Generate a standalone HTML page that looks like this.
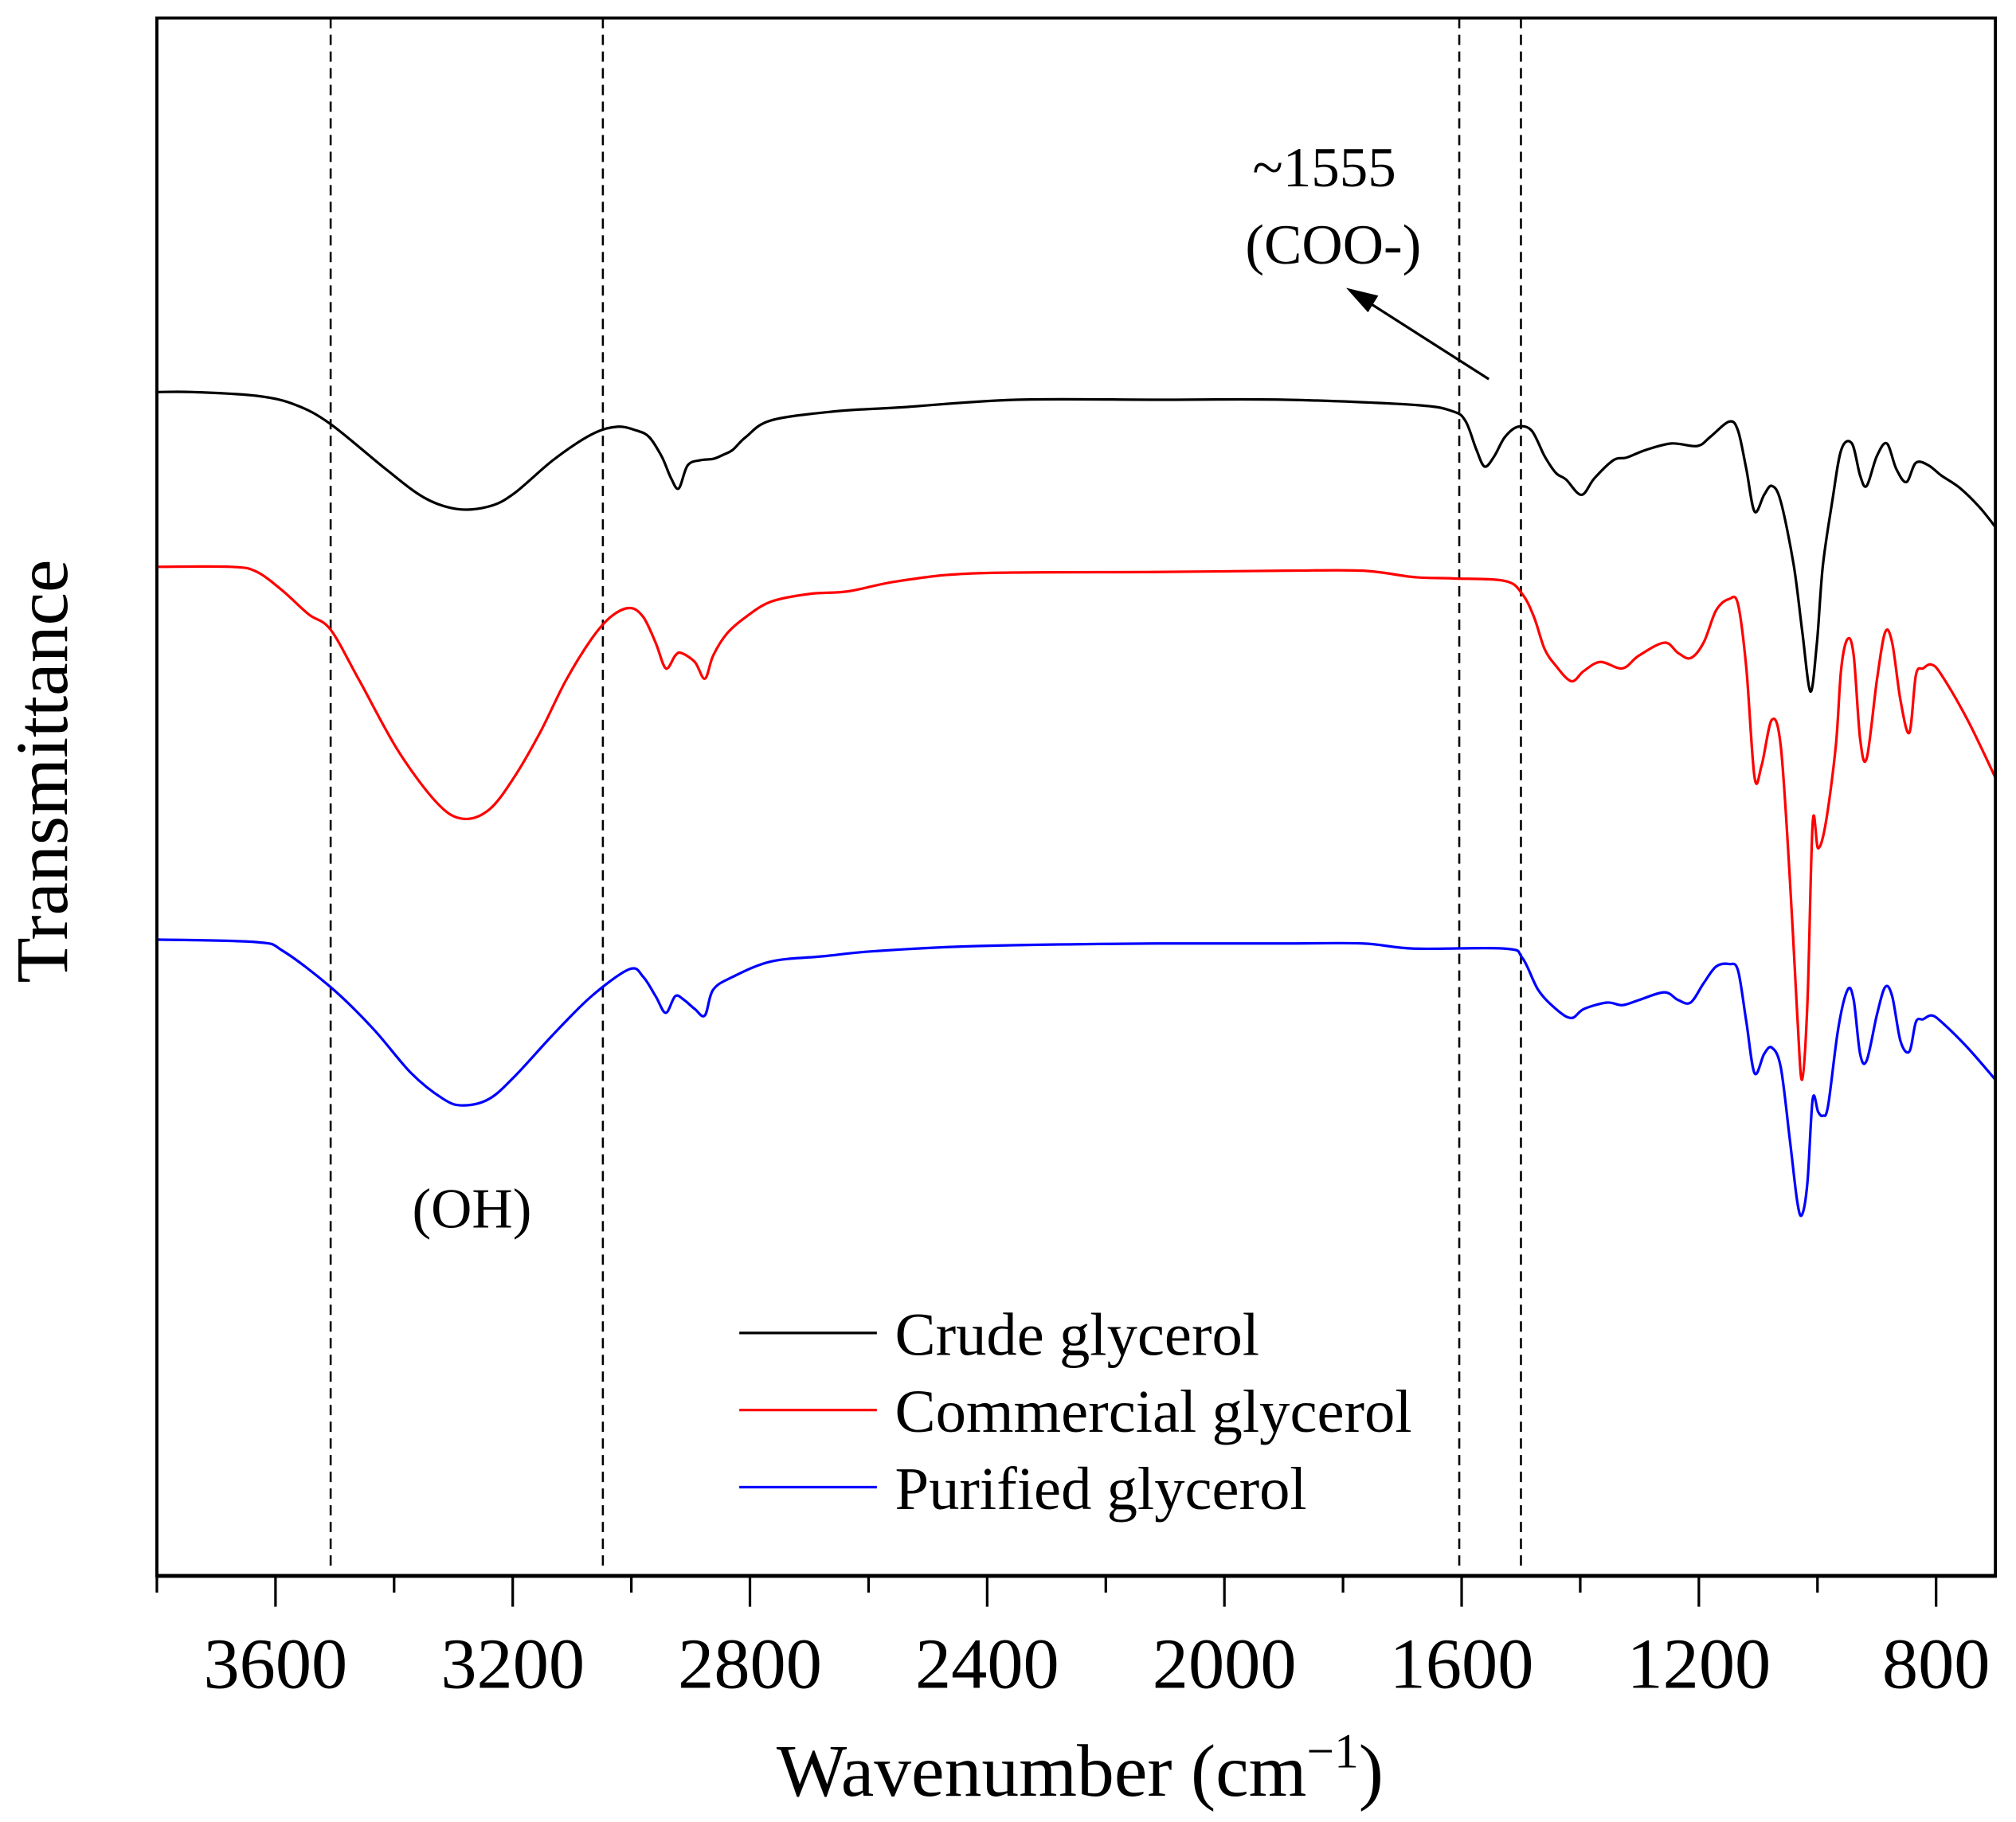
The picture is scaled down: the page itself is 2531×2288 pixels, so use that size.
<!DOCTYPE html>
<html><head><meta charset="utf-8"><style>
html,body{margin:0;padding:0;background:#fff;}
svg{display:block;}
text{font-family:"Liberation Serif",serif;fill:#000;}
</style></head><body>
<svg id="chart" width="2531" height="2288" viewBox="0 0 1568 1417.5" xmlns="http://www.w3.org/2000/svg">
<g id="plot"></g>
</svg>
<script>
const xTicks = [3600, 3200, 2800, 2400, 2000, 1600, 1200, 800];
const xMinorTicks = [3800, 3400, 3000, 2600, 2200, 1800, 1400, 1000];
const crudeWn = [3800,3739,3631,3566,3507,3414,3350,3294,3240,3198,3132,3067,3024,2991,2970,2949,2933,2920,2905,2883,2862,2846,2829,2807,2764,2656,2548,2352,2114,1896,1680,1615,1593,1575,1561,1545,1527,1505,1482,1460,1441,1424,1398,1376,1344,1322,1289,1246,1203,1181,1149,1134,1120,1106,1090,1077,1062,1040,1026,1012,1001,991,975,960,942,928,917,900,883,867,850,834,813,791,759,726,700];
const crudeT = [93.5,93.5,93.2,92.5,91,87.5,85.3,84.4,84.6,85.6,88.2,90.2,90.8,90.5,90,88.5,86.8,86,87.8,88.2,88.3,88.6,89,90,91.3,92,92.3,92.9,92.9,92.9,92.5,92,91.2,89,87.7,88.5,90,90.8,90.5,88.5,87.2,86.7,85.5,86.8,88.2,88.4,89,89.5,89.3,90,91.2,90.5,87.5,84.2,85.5,86.2,85,80,75,70.2,74,80,85,89,89.5,87,86.2,88.5,89.5,87.5,86.5,88,87.8,87,86,84.5,83];
const commWn = [3800,3674,3631,3587,3544,3507,3458,3392,3327,3284,3240,3198,3154,3111,3067,3035,3003,2980,2959,2942,2926,2916,2893,2876,2862,2839,2807,2764,2699,2634,2548,2417,2114,1896,1767,1680,1615,1527,1498,1478,1460,1441,1415,1394,1366,1329,1301,1258,1235,1214,1192,1171,1149,1134,1120,1106,1094,1077,1062,1047,1034,1026,1017,1008,999,986,969,960,949,939,928,917,900,886,874,860,845,834,822,808,791,747,700];
const commT = [79.9,79.9,79.5,78,76.2,75,71,65.5,61.5,60.3,61,63.5,67,71,74.3,76,76.7,76,74,72,73,73.2,72.5,71.2,73,74.7,76,77.2,77.8,78,78.8,79.4,79.5,79.6,79.6,79.1,79,78.8,77.8,76,73.5,72.2,71,71.8,72.5,72,73,74,73.2,72.8,74,76.5,77.4,77,72,63.5,64.5,68,66,56,45,40,46,60,58,60,66,72,74.3,73,66.5,65,71,74.8,74,69.5,67,71.5,72,72.3,71.5,68,63.5];
const purWn = [3800,3631,3587,3507,3436,3371,3317,3284,3240,3198,3132,3067,3003,2980,2959,2942,2926,2911,2893,2876,2862,2829,2764,2677,2590,2417,2114,1896,1767,1680,1527,1498,1471,1441,1415,1394,1355,1329,1301,1258,1235,1214,1192,1171,1149,1134,1120,1106,1090,1077,1062,1047,1034,1026,1017,1008,999,991,982,965,949,939,928,917,900,886,874,860,845,834,822,808,791,747,700];
const purT = [50.9,50.7,50,47.2,44,40.5,38.5,38,38.5,40.2,43.5,46.5,48.6,48,46.5,45.2,46.5,46.2,45.5,45,47,48,49.2,49.6,50,50.4,50.6,50.6,50.6,50.2,50.2,49.5,47,45.5,44.8,45.5,46,45.8,46.2,46.8,46.2,46,47.5,48.8,49,48.5,44.5,40.5,42,42.5,41,35.5,30.5,29.5,32,38.5,37.5,37.2,38,44,47,46.2,42,41.5,45,47.2,46.5,43,42.2,44.5,44.7,45,44.5,42.5,40];
const seriesNames = ["Crude glycerol","Commercial glycerol","Purified glycerol"];
const seriesColors = ["#000000","#ff0000","#0000ff"];
const markerWn = [3507, 3048, 1604, 1500];

const L=122, R=1552, T=14, B=1226;
const W0=3800, W1=700;
function xs(w){ return L + (W0 - w) / (W0 - W1) * (R - L); }
function ys(v){ return 1240 - v * 10; }

const NS="http://www.w3.org/2000/svg";
const svg=document.getElementById('chart');
const plot=document.getElementById('plot');
function el(tag, attrs, parent){ const e=document.createElementNS(NS,tag); for(const k in attrs) e.setAttribute(k,attrs[k]); (parent||svg).appendChild(e); return e; }

markerWn.forEach(function(w){
  const ln=el('line',{x1:xs(w),x2:xs(w),y1:T,y2:1218,stroke:'#000','stroke-width':1.6,'stroke-dasharray':'8,5'},plot);
  
  
});

function smoothPath(wn, t){
  const p=wn.map(function(w,i){return [xs(w), ys(t[i])];});
  let d='M'+p[0][0].toFixed(1)+','+p[0][1].toFixed(1);
  for(let i=0;i<p.length-1;i++){
    const p0=p[Math.max(0,i-1)], p1=p[i], p2=p[i+1], p3=p[Math.min(p.length-1,i+2)];
    const c1=[p1[0]+(p2[0]-p0[0])/6, p1[1]+(p2[1]-p0[1])/6];
    const c2=[p2[0]-(p3[0]-p1[0])/6, p2[1]-(p3[1]-p1[1])/6];
    d+='C'+c1[0].toFixed(1)+','+c1[1].toFixed(1)+' '+c2[0].toFixed(1)+','+c2[1].toFixed(1)+' '+p2[0].toFixed(1)+','+p2[1].toFixed(1);
  }
  return d;
}
const allWn=[crudeWn,commWn,purWn], allT=[crudeT,commT,purT];
const serNames=['crude-glycerol-line','commercial-glycerol-line','purified-glycerol-line'];
for(let s=0;s<3;s++){
  const pth=el('path',{d:smoothPath(allWn[s],allT[s]),fill:'none',stroke:seriesColors[s],'stroke-width':2,'stroke-linejoin':'round'},plot);
  
  
}

const fr=el('rect',{x:L,y:T,width:R-L,height:B-T,fill:'none',stroke:'#000','stroke-width':2.4});


const xa=el('line',{x1:L-1,x2:R+1,y1:B,y2:B,stroke:'#000','stroke-width':3});



xTicks.forEach(function(w){
  const tk=el('line',{x1:xs(w),x2:xs(w),y1:B,y2:B+24,stroke:'#000','stroke-width':2});
  
  
  const tl=el('text',{x:xs(w),y:1313,'text-anchor':'middle','font-size':56});
  tl.textContent=String(w);
  
  
});
xMinorTicks.forEach(function(w){
  const tk=el('line',{x1:xs(w),x2:xs(w),y1:B,y2:B+13,stroke:'#000','stroke-width':2});
  
  
});

for(let s=0;s<3;s++){
  const y=1037+s*60;
  const ll=el('line',{x1:575,x2:682,y1:y,y2:y,stroke:seriesColors[s],'stroke-width':2});
  
  
  const lt=el('text',{x:696,y:y+17,'font-size':47.5});
  lt.textContent=seriesNames[s];
  
  
}
</script>
<script>
(function(){
const svg=document.getElementById('chart');
svg.insertAdjacentHTML('beforeend',
 '<text x="840" y="1397" text-anchor="middle" font-size="58">Wavenumber (cm<tspan dy="-22" font-size="38">−1</tspan><tspan dy="22">)</tspan></text>'+
 '<text transform="translate(52,600) rotate(-90)" text-anchor="middle" font-size="58">Transmittance</text>'+
 '<text x="1030" y="145" text-anchor="middle" font-size="44">~1555</text>'+
 '<text x="1037" y="205" text-anchor="middle" font-size="44">(COO-)</text>'+
 '<line x1="1158" y1="295" x2="1050" y2="226" stroke="#000" stroke-width="2" />'+
 '<path d="M1047,224 L1072,230 L1064,243 z" fill="#000"/>'+
 '<text x="367" y="955" text-anchor="middle" font-size="44">(OH)</text>');
})();
</script>
</body></html>
